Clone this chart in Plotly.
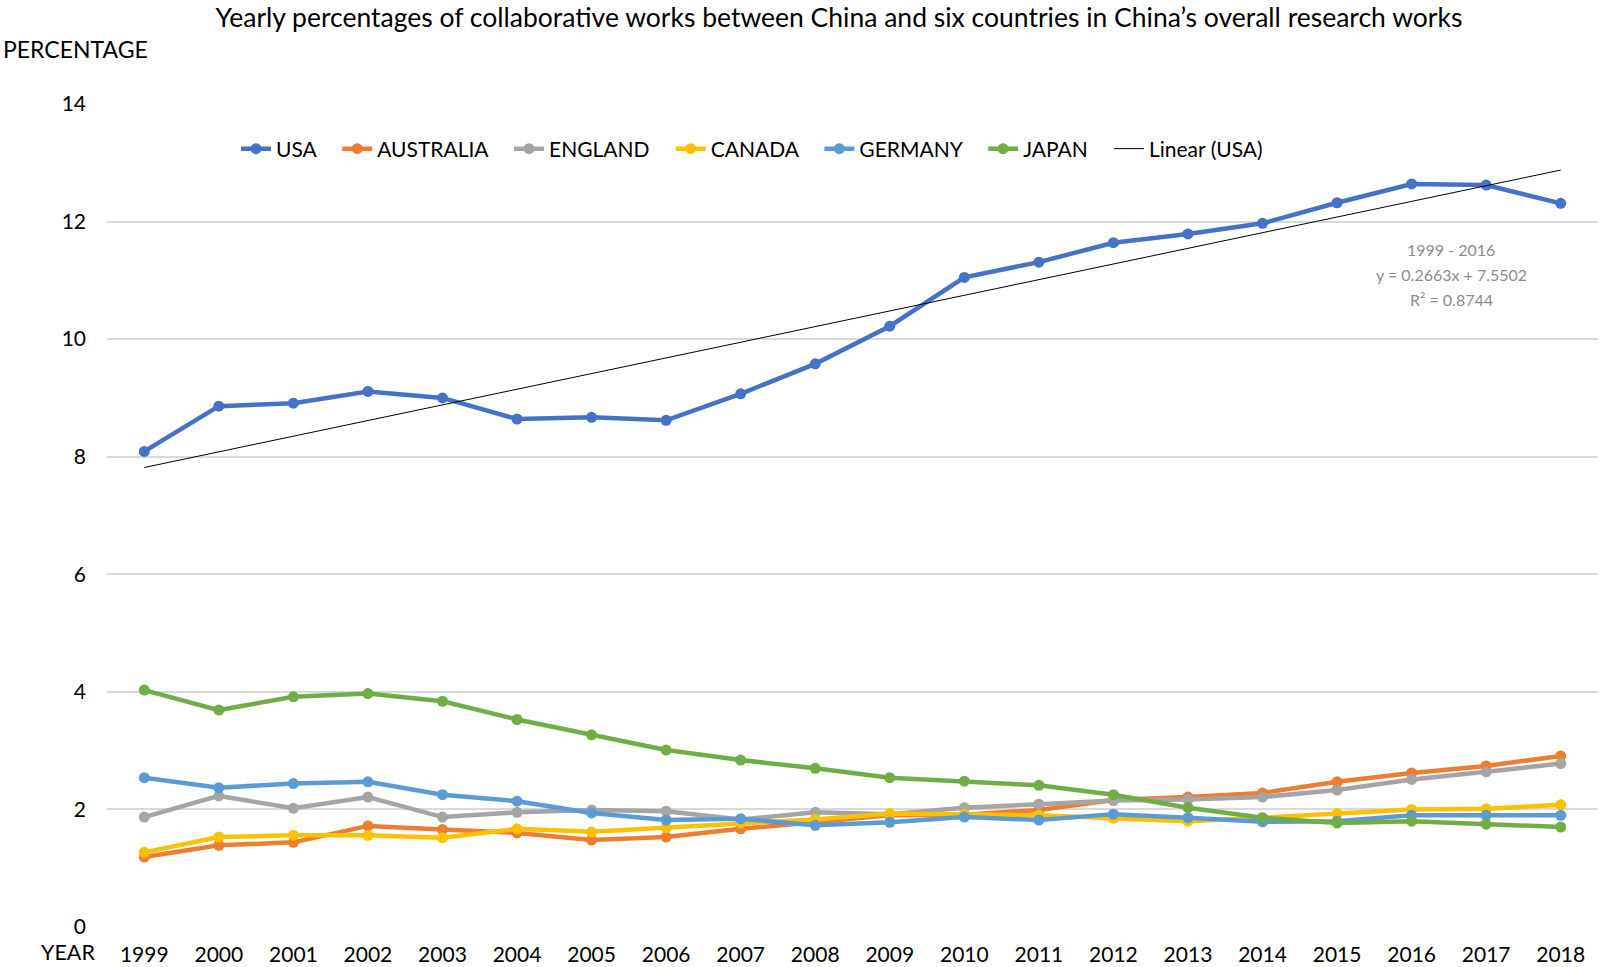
import plotly.graph_objects as go

years = list(range(1999, 2019))
usa = [8.09, 8.86, 8.91, 9.11, 9.00, 8.64, 8.67, 8.62, 9.07, 9.58, 10.22, 11.05, 11.31, 11.64, 11.79, 11.97, 12.32, 12.64, 12.62, 12.31]
australia = [1.19, 1.39, 1.44, 1.72, 1.66, 1.60, 1.48, 1.53, 1.67, 1.79, 1.90, 1.91, 1.99, 2.16, 2.21, 2.28, 2.47, 2.62, 2.74, 2.91]
england = [1.87, 2.23, 2.02, 2.21, 1.87, 1.95, 1.99, 1.97, 1.83, 1.95, 1.92, 2.03, 2.09, 2.15, 2.17, 2.21, 2.33, 2.51, 2.64, 2.78]
canada = [1.27, 1.53, 1.56, 1.56, 1.52, 1.67, 1.62, 1.69, 1.77, 1.83, 1.93, 1.92, 1.90, 1.85, 1.80, 1.86, 1.93, 2.00, 2.01, 2.08]
germany = [2.54, 2.37, 2.44, 2.47, 2.25, 2.14, 1.94, 1.82, 1.84, 1.73, 1.78, 1.87, 1.82, 1.92, 1.86, 1.79, 1.80, 1.90, 1.90, 1.90]
japan = [4.03, 3.69, 3.915, 3.97, 3.84, 3.53, 3.27, 3.01, 2.84, 2.70, 2.54, 2.48, 2.41, 2.25, 2.03, 1.86, 1.77, 1.80, 1.75, 1.70]

trend_slope = 0.2663
trend_intercept = 7.5502
trend_lines = ["1999 - 2016", "y = 0.2663x + 7.5502", "R² = 0.8744"]

series = [
    ("USA", usa, "#4472C4"),
    ("AUSTRALIA", australia, "#ED7D31"),
    ("ENGLAND", england, "#A5A5A5"),
    ("CANADA", canada, "#FFC000"),
    ("GERMANY", germany, "#5B9BD5"),
    ("JAPAN", japan, "#70AD47"),
]

FONT = "Lato, 'Open Sans', sans-serif"
W, H = 1600, 967
L, R, T, B = 107, 2, 104, 40
PH = H - T - B
PW = W - L - R
PAD = "\u00a0\u00a0\u00a0"

fig = go.Figure()
for name, vals, color in series:
    fig.add_trace(go.Scatter(
        x=years, y=vals, name=name + PAD, mode="lines+markers",
        line=dict(color=color, width=4.5),
        marker=dict(color=color, size=11),
    ))

trend_y = [trend_slope * (i + 1) + trend_intercept for i in range(len(years))]
fig.add_trace(go.Scatter(
    x=years, y=trend_y, name="Linear (USA)", mode="lines",
    line=dict(color="black", width=1),
))

for i, txt in enumerate(trend_lines):
    fig.add_annotation(
        xref="paper", yref="paper",
        x=(1451 - L) / PW, xanchor="center",
        y=(H - B - (249 + 25 * i)) / PH, yanchor="middle",
        text=txt, showarrow=False,
        font=dict(family=FONT, size=16, color="#8C8C8C"),
    )

fig.update_layout(
    width=W, height=H,
    paper_bgcolor="white", plot_bgcolor="white",
    margin=dict(l=L, r=R, t=T, b=B, autoexpand=False),
    font=dict(family=FONT, size=21, color="black"),
    title=dict(
        text="Yearly percentages of collaborative works between China and six countries in China’s overall research works",
        x=839 / W, xanchor="center", y=1 - 18 / H, yanchor="middle",
        font=dict(family=FONT, size=26.5, color="black"),
    ),
    showlegend=True,
    legend=dict(
        orientation="h", x=(236 - L) / PW, xanchor="left",
        y=(H - B - 149) / PH, yanchor="middle",
        font=dict(family=FONT, size=21, color="black"),
        bgcolor="rgba(0,0,0,0)", itemwidth=30, tracegroupgap=0,
    ),
    xaxis=dict(
        range=[1998.5, 2018.5], tickmode="array", tickvals=years,
        ticktext=[str(y) for y in years], showgrid=False, zeroline=False,
        showline=False, ticks="", ticklabelstandoff=13, automargin=False,
        tickfont=dict(family=FONT, size=21),
    ),
    yaxis=dict(
        range=[0, 14], tickvals=[0, 2, 4, 6, 8, 10, 12, 14],
        showgrid=True, gridcolor="#D9D9D9", gridwidth=1.5, zeroline=False,
        showline=False, ticks="", ticklabelstandoff=20, automargin=False,
        tickfont=dict(family=FONT, size=21),
    ),
)

fig.add_annotation(
    xref="paper", yref="paper", x=(1 - L) / PW, xanchor="left",
    y=(H - B - 49) / PH, yanchor="middle", text="PERCENTAGE",
    showarrow=False, font=dict(family=FONT, size=23, color="black"),
)
fig.add_annotation(
    xref="paper", yref="paper", x=(68 - L) / PW, xanchor="center",
    y=(H - B - 952) / PH, yanchor="middle", text="YEAR",
    showarrow=False, font=dict(family=FONT, size=21.5, color="black"),
    borderpad=0,
)

fig.write_html(
    "out.html",
    config={"displayModeBar": False},
    post_script="document.body.style.margin='0';document.body.style.overflow='hidden';",
)
